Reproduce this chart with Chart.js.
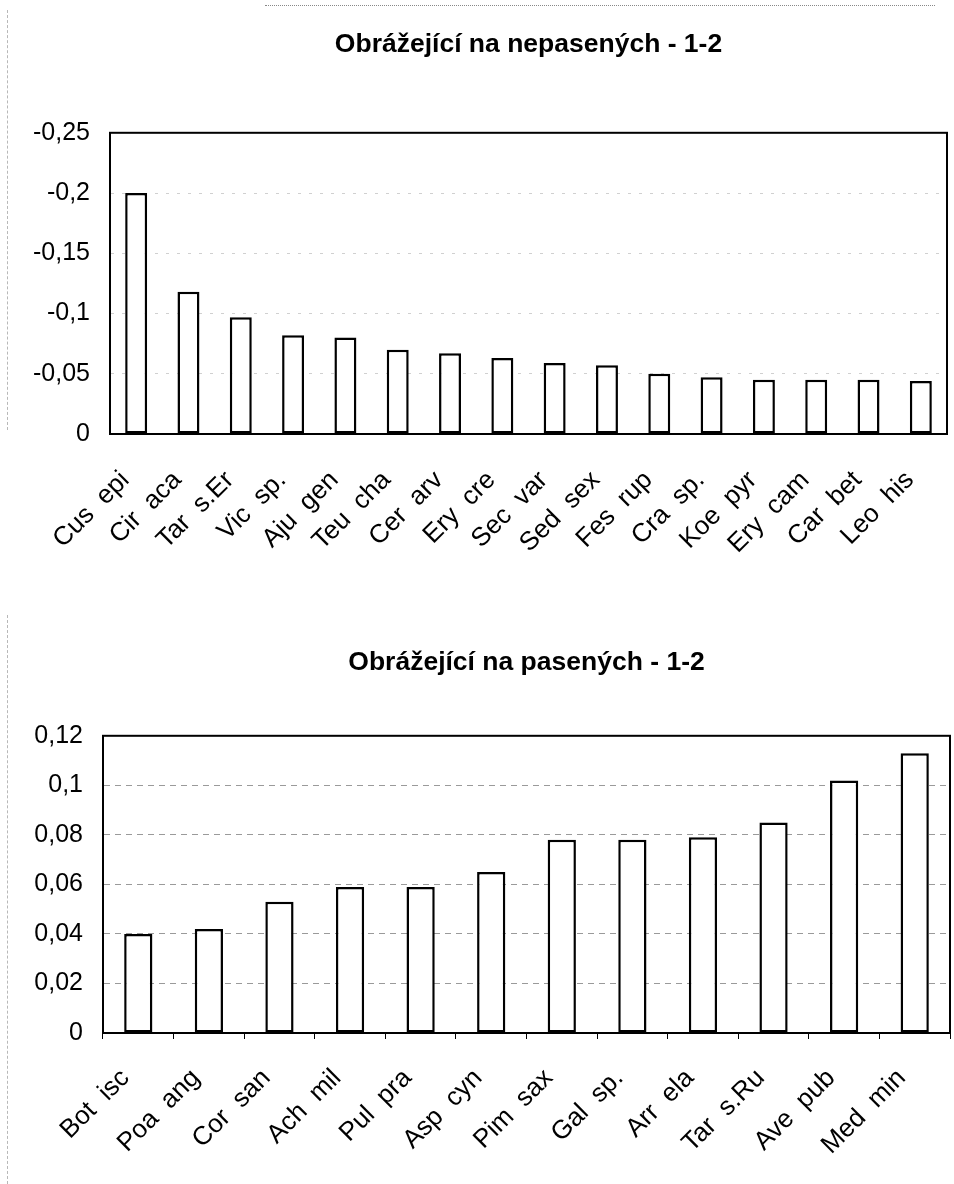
<!DOCTYPE html>
<html>
<head>
<meta charset="utf-8">
<title>Obrážející - 1-2</title>
<script src="https://cdn.jsdelivr.net/npm/chart.js@4"></script>
<style>
  body { margin: 0; background: #fff; }
  #page { position: relative; width: 954px; height: 1184px; overflow: hidden; }
  .box { position: absolute; left: 0; width: 954px; height: 592px; }
  .scanline { position: absolute; left: 7px; width: 0; border-left: 1px dashed #b8b8b8; }
  .topline { position: absolute; top: 5px; left: 265px; width: 670px; border-top: 1px dotted #888; }
</style>
</head>
<body>
<div id="page">
  <div class="topline"></div>
  <div class="scanline" style="top: 10px; height: 420px;"></div>
  <div class="scanline" style="top: 615px; height: 569px;"></div>
  <div class="box" style="top: 0;"><canvas id="nepasene"></canvas></div>
  <div class="box" style="top: 592px;"><canvas id="pasene"></canvas></div>
</div>
<script>
// non-grazed plots
const ungrazedLabels = ["Cus  epi", "Cir  aca", "Tar  s.Er", "Vic  sp.", "Aju  gen", "Teu  cha", "Cer  arv", "Ery  cre",
  "Sec  var", "Sed  sex", "Fes  rup", "Cra  sp.", "Koe  pyr", "Ery  cam", "Car  bet", "Leo  his"];
const ungrazedValues = [-0.2, -0.118, -0.097, -0.082, -0.08, -0.07, -0.067, -0.063,
  -0.059, -0.057, -0.05, -0.047, -0.045, -0.045, -0.045, -0.044];
const ungrazedTicks = [-0.25, -0.2, -0.15, -0.1, -0.05, 0];

// grazed plots
const grazedLabels = ["Bot  isc", "Poa  ang", "Cor  san", "Ach  mil", "Pul  pra", "Asp  cyn",
  "Pim  sax", "Gal  sp.", "Arr  ela", "Tar  s.Ru", "Ave  pub", "Med  min"];
const grazedValues = [0.04, 0.042, 0.053, 0.059, 0.059, 0.065, 0.078, 0.078, 0.079, 0.085, 0.102, 0.113];
const grazedTicks = [0, 0.02, 0.04, 0.06, 0.08, 0.1, 0.12];

const FONT = "'Liberation Sans', Arial, sans-serif";

function czNumber(v) {
  return Number(v.toFixed(2)).toString().replace(".", ",");
}

// black frame round the plot area
const plotFrame = {
  id: "plotFrame",
  afterDraw(chart) {
    const a = chart.chartArea;
    const ctx = chart.ctx;
    ctx.save();
    ctx.strokeStyle = "#000";
    ctx.lineWidth = 2;
    ctx.strokeRect(a.left, a.top, a.right - a.left, a.bottom - a.top);
    ctx.restore();
  }
};

function makeChart(id, cfg) {
  const ctx = document.getElementById(id).getContext("2d");
  return new Chart(ctx, {
    type: "bar",
    data: {
      labels: cfg.labels,
      datasets: [{
        data: cfg.values,
        backgroundColor: "#fff",
        borderColor: "#000",
        borderWidth: 2.5,
        borderSkipped: false,
        barPercentage: cfg.barPct,
        categoryPercentage: 1
      }]
    },
    options: {
      responsive: true,
      maintainAspectRatio: false,
      animation: false,
      layout: { padding: { left: 0, right: cfg.padRight, top: 0, bottom: 0 } },
      plugins: {
        legend: { display: false },
        tooltip: { enabled: false },
        title: {
          display: true,
          text: cfg.title,
          fullSize: false,
          color: "#000",
          font: { family: FONT, size: 26.5, weight: "bold", lineHeight: 1.2 },
          padding: cfg.titlePad
        }
      },
      scales: {
        x: {
          offset: true,
          afterFit: (s) => {
            s.height = cfg.xHeight;
            // rotated labels end at the tick, no side room needed
            s.paddingLeft = 0;
            s.paddingRight = 0;
          },
          grid: {
            offset: true,
            drawOnChartArea: false,
            drawTicks: cfg.xTicks,
            tickLength: 6,
            color: "#000",
            lineWidth: 1
          },
          border: { display: true, color: "#000", width: 2 },
          ticks: {
            color: "#000",
            font: { family: FONT, size: 26 },
            maxRotation: 45,
            minRotation: 45,
            autoSkip: false,
            padding: cfg.xPad,
            labelOffset: cfg.xShift
          }
        },
        y: {
          min: cfg.min,
          max: cfg.max,
          reverse: cfg.reverse,
          afterFit: (s) => { s.width = cfg.yWidth; },
          afterBuildTicks: (s) => { s.ticks = cfg.ticks.map((v) => ({ value: v })); },
          grid: { color: cfg.gridColor, lineWidth: 1, drawTicks: false },
          border: { display: true, color: "#000", width: 2, dash: cfg.gridDash },
          ticks: {
            color: "#000",
            font: { family: FONT, size: 25 },
            padding: 20,
            callback: (v) => czNumber(v)
          }
        }
      }
    },
    plugins: [plotFrame]
  });
}

makeChart("nepasene", {
  title: "Obrážející na nepasených - 1-2",
  labels: ungrazedLabels,
  values: ungrazedValues,
  ticks: ungrazedTicks,
  min: -0.25,
  max: 0,
  reverse: true,
  barPct: 0.42,
  padRight: 7,
  yWidth: 110,
  xHeight: 158,
  xTicks: false,
  xPad: 31,
  xShift: -11,
  titlePad: { top: 29, bottom: 72 },
  gridColor: "#d0d0d0",
  gridDash: [3, 8]
});

makeChart("pasene", {
  title: "Obrážející na pasených - 1-2",
  labels: grazedLabels,
  values: grazedValues,
  ticks: grazedTicks,
  min: 0,
  max: 0.12,
  reverse: false,
  barPct: 0.4,
  padRight: 4,
  yWidth: 103,
  xHeight: 151,
  xTicks: true,
  xPad: 24,
  xShift: -13,
  titlePad: { top: 55, bottom: 57 },
  gridColor: "#9a9a9a",
  gridDash: [6, 5]
});
</script>
</body>
</html>
